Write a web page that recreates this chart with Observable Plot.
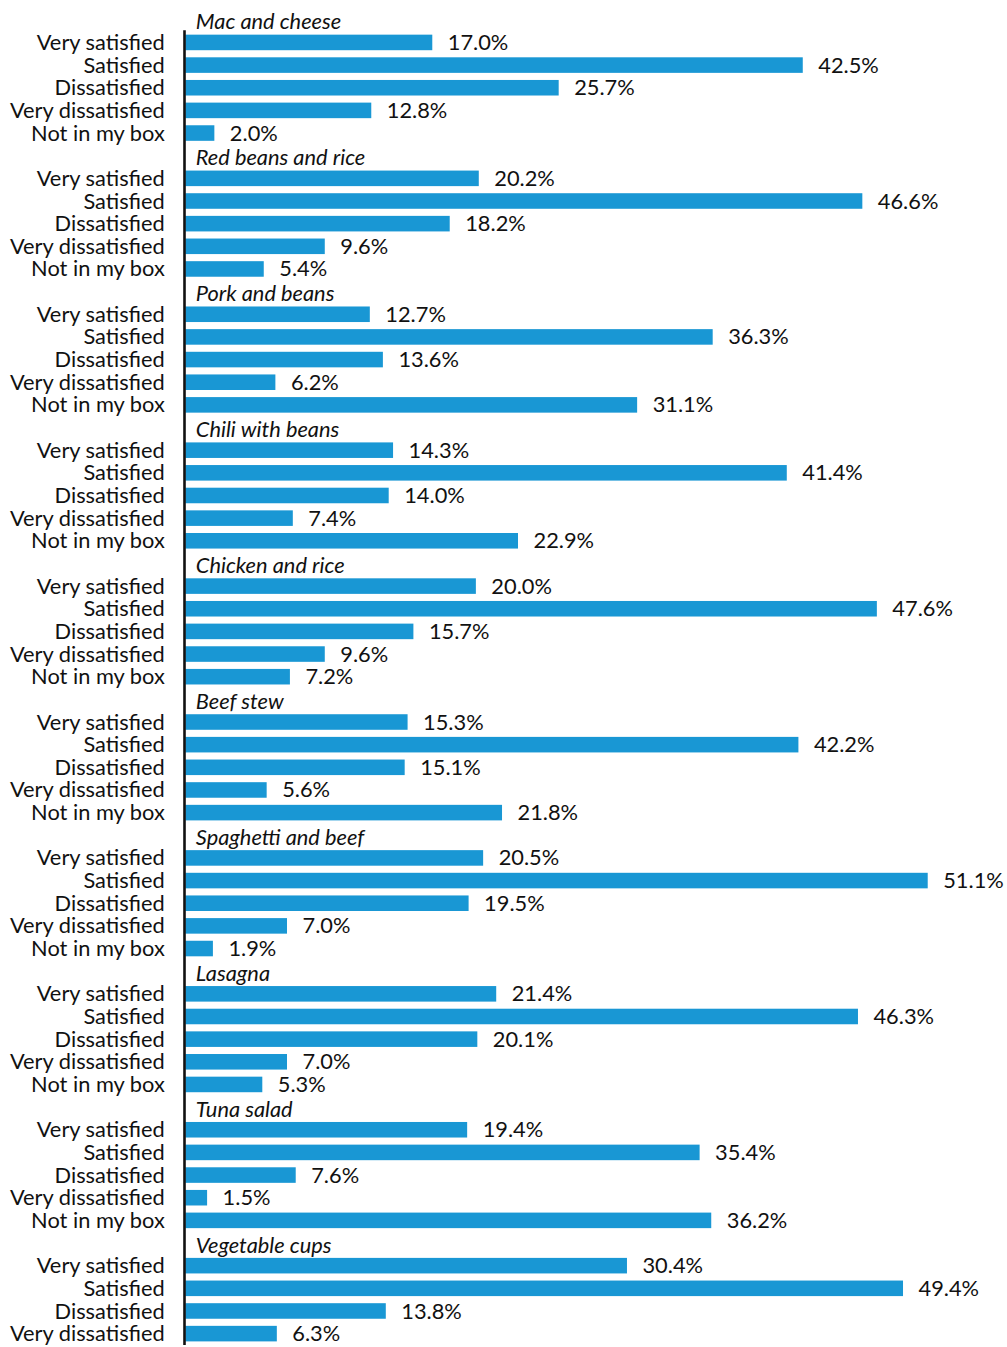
<!DOCTYPE html>
<html><head><meta charset="utf-8">
<script src="https://cdn.jsdelivr.net/npm/d3@7"></script>
<script src="https://cdn.jsdelivr.net/npm/@observablehq/plot@0.6"></script>
<style>body{margin:0;background:#fff}</style>
</head><body><div id="chart"></div>
<script>
const foods = ["Mac and cheese","Red beans and rice","Pork and beans","Chili with beans","Chicken and rice","Beef stew","Spaghetti and beef","Lasagna","Tuna salad","Vegetable cups"];
const responses = ["Very satisfied","Satisfied","Dissatisfied","Very dissatisfied","Not in my box"];
const macAndCheese   = [17.0, 42.5, 25.7, 12.8, 2.0];
const redBeansRice   = [20.2, 46.6, 18.2, 9.6, 5.4];
const porkAndBeans   = [12.7, 36.3, 13.6, 6.2, 31.1];
const chiliWithBeans = [14.3, 41.4, 14.0, 7.4, 22.9];
const chickenAndRice = [20.0, 47.6, 15.7, 9.6, 7.2];
const beefStew       = [15.3, 42.2, 15.1, 5.6, 21.8];
const spaghettiBeef  = [20.5, 51.1, 19.5, 7.0, 1.9];
const lasagna        = [21.4, 46.3, 20.1, 7.0, 5.3];
const tunaSalad      = [19.4, 35.4, 7.6, 1.5, 36.2];
const vegetableCups  = [30.4, 49.4, 13.8, 6.3];
const values = [macAndCheese, redBeansRice, porkAndBeans, chiliWithBeans, chickenAndRice, beefStew, spaghettiBeef, lasagna, tunaSalad, vegetableCups];

const slots = [], rows = [], titles = [];
foods.forEach((f, i) => {
  const tk = f + "|";
  slots.push(tk);
  titles.push({key: tk, food: f});
  values[i].forEach((v, j) => {
    const k = f + "|" + responses[j];
    slots.push(k);
    rows.push({key: k, food: f, response: responses[j], value: v});
  });
});
const firstKey = rows[0].key;
const lastKey = rows[rows.length - 1].key;
const FS = 21.8;

const chart = Plot.plot({
  width: 1007, height: 1347,
  marginLeft: 185.3, marginRight: 8.1, marginTop: 8.5, marginBottom: 2,
  style: {fontFamily: "Lato, sans-serif", fontSize: FS + "px", color: "#111", background: "#fff"},
  x: {domain: [0, 56], axis: null},
  y: {domain: slots, padding: 0, axis: null},
  marks: [
    Plot.barX(rows, {x: "value", y: "key", fill: "#1997d4", insetTop: 3.5, insetBottom: 3.6}),
    Plot.text(rows, {x: "value", y: "key", text: d => d.value.toFixed(1) + "%", textAnchor: "start", dx: 15, fontSize: FS, fill: "#111"}),
    Plot.text(titles, {x: 0, y: "key", text: "food", textAnchor: "start", dx: 10, dy: 2, fontSize: FS, fontStyle: "italic", fill: "#111"}),
    Plot.text(rows, {x: 0, y: "key", text: "response", textAnchor: "end", dx: -21, fontSize: FS, fill: "#111"}),
    Plot.ruleX([0], {x: d => d, y1: () => firstKey, y2: () => lastKey, stroke: "#111", strokeWidth: 2.6, dx: -1.3, insetTop: -1})
  ]
});
document.getElementById("chart").append(chart);
</script>
</body></html>
